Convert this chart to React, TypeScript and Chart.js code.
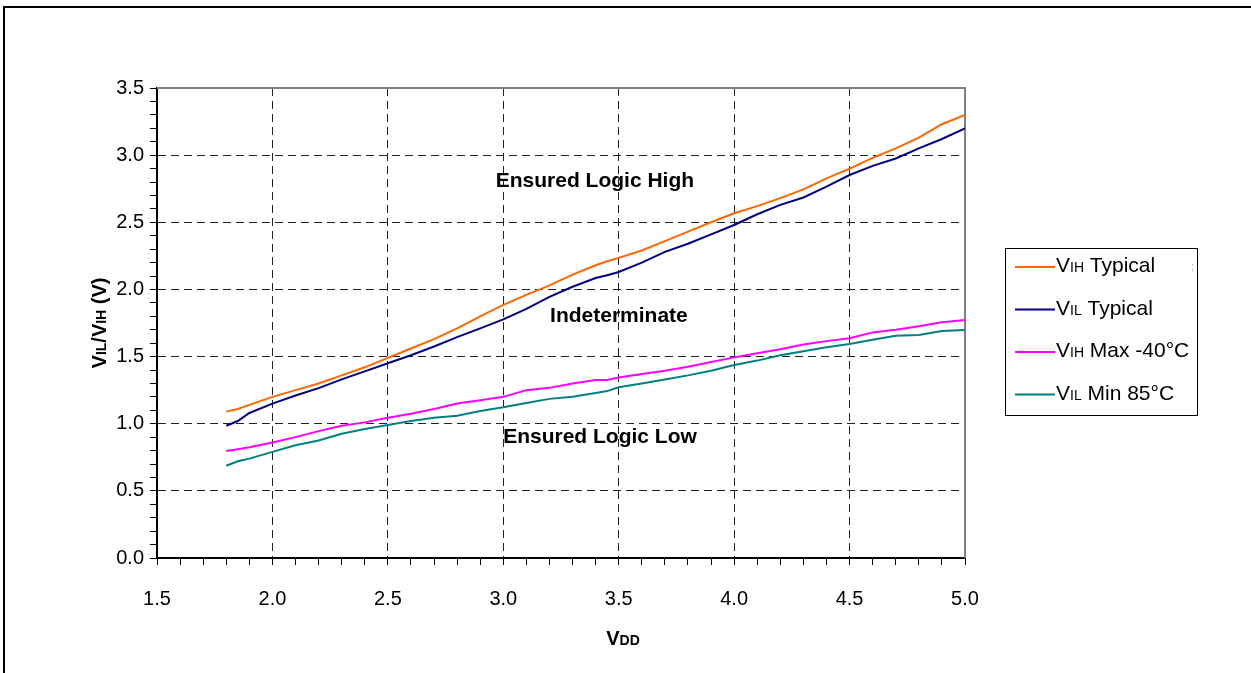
import { useEffect, useRef } from 'react';
import { Chart, registerables } from 'chart.js';

Chart.register(...registerables);

// ---------- data ----------
const VDD = [1.8, 1.85, 1.9, 2.0, 2.1, 2.2, 2.3, 2.4, 2.5, 2.6, 2.7, 2.8, 2.9, 3.0, 3.1, 3.2, 3.3, 3.4, 3.45, 3.5, 3.6, 3.7, 3.8, 3.9, 4.0, 4.1, 4.2, 4.3, 4.4, 4.5, 4.6, 4.7, 4.8, 4.9, 5.0];
const VIH_TYPICAL = [1.09, 1.11, 1.14, 1.2, 1.25, 1.3, 1.36, 1.42, 1.49, 1.56, 1.63, 1.71, 1.8, 1.885, 1.96, 2.03, 2.11, 2.18, 2.21, 2.235, 2.29, 2.36, 2.43, 2.5, 2.567, 2.62, 2.68, 2.745, 2.827, 2.9, 2.98, 3.05, 3.13, 3.23, 3.3];
const VIL_TYPICAL = [0.985, 1.02, 1.08, 1.15, 1.21, 1.265, 1.33, 1.39, 1.45, 1.51, 1.575, 1.645, 1.71, 1.777, 1.855, 1.945, 2.02, 2.085, 2.105, 2.13, 2.2, 2.28, 2.34, 2.41, 2.48, 2.56, 2.63, 2.685, 2.765, 2.852, 2.92, 2.975, 3.05, 3.12, 3.2];
const VIH_MAX_M40 = [0.797, 0.81, 0.825, 0.86, 0.9, 0.945, 0.985, 1.01, 1.045, 1.075, 1.11, 1.15, 1.175, 1.2, 1.25, 1.267, 1.3, 1.325, 1.325, 1.345, 1.37, 1.395, 1.425, 1.46, 1.494, 1.525, 1.555, 1.59, 1.615, 1.636, 1.68, 1.7, 1.725, 1.755, 1.772];
const VIL_MIN_85 = [0.687, 0.72, 0.74, 0.79, 0.84, 0.875, 0.925, 0.96, 0.99, 1.02, 1.045, 1.06, 1.095, 1.122, 1.155, 1.185, 1.2, 1.228, 1.243, 1.271, 1.3, 1.33, 1.36, 1.395, 1.437, 1.47, 1.51, 1.54, 1.57, 1.593, 1.625, 1.655, 1.66, 1.69, 1.698];

const SERIES_LABELS = ['VIH Typical', 'VIL Typical', 'VIH Max -40°C', 'VIL Min 85°C'];
const SERIES_COLORS = ['#FF6600', '#000080', '#FF00FF', '#008080'];

const X_TICKS = [1.5, 2.0, 2.5, 3.0, 3.5, 4.0, 4.5, 5.0];
const X_TICK_LABELS = ['1.5', '2.0', '2.5', '3.0', '3.5', '4.0', '4.5', '5.0'];
const Y_TICKS = [0.0, 0.5, 1.0, 1.5, 2.0, 2.5, 3.0, 3.5];
const Y_TICK_LABELS = ['0.0', '0.5', '1.0', '1.5', '2.0', '2.5', '3.0', '3.5'];

const REGION_LABELS = ['Ensured Logic High', 'Indeterminate', 'Ensured Logic Low'];

const FAMILY = '"Liberation Sans", Arial, Helvetica, sans-serif';

type Seg = [string, number];

function drawSegs(ctx: CanvasRenderingContext2D, segs: Seg[], x: number, y: number, center: boolean, bold: boolean) {
  let total = 0;
  for (const [t, s] of segs) {
    ctx.font = `${bold ? 'bold ' : ''}${s}px ${FAMILY}`;
    total += ctx.measureText(t).width;
  }
  let cx = center ? x - total / 2 : x;
  ctx.textAlign = 'left';
  ctx.textBaseline = 'alphabetic';
  for (const [t, s] of segs) {
    ctx.font = `${bold ? 'bold ' : ''}${s}px ${FAMILY}`;
    ctx.fillText(t, cx, y);
    cx += ctx.measureText(t).width;
  }
}

function splitLabel(label: string, big: number, small: number): Seg[] {
  return [[label.slice(0, 1), big], [label.slice(1, 3), small], [label.slice(3), big]];
}

function tickIndex(list: number[], v: number) {
  return list.findIndex((t) => Math.abs(t - v) < 1e-6);
}

const decorPlugin = {
  id: 'decor',
  beforeDraw(chart: any) {
    const ctx = chart.ctx as CanvasRenderingContext2D;
    ctx.save();
    ctx.fillStyle = '#ffffff';
    ctx.fillRect(0, 0, chart.width, chart.height);
    // outer frame
    ctx.strokeStyle = '#000';
    ctx.lineWidth = 2;
    ctx.beginPath();
    ctx.moveTo(4, chart.height + 2);
    ctx.lineTo(4, 7);
    ctx.lineTo(chart.width + 2, 7);
    ctx.stroke();
    ctx.restore();
  },
  beforeDatasetsDraw(chart: any) {
    const ctx = chart.ctx as CanvasRenderingContext2D;
    const a = chart.chartArea;
    ctx.save();
    ctx.strokeStyle = '#808080';
    ctx.lineWidth = 2;
    ctx.beginPath();
    ctx.moveTo(a.left, a.top);
    ctx.lineTo(a.right, a.top);
    ctx.lineTo(a.right, a.bottom);
    ctx.stroke();
    ctx.restore();
  },
  afterDraw(chart: any) {
    const ctx = chart.ctx as CanvasRenderingContext2D;
    const xs = chart.scales.x;
    const ys = chart.scales.y;
    const a = chart.chartArea;
    ctx.save();
    ctx.fillStyle = '#000';

    // region annotations (anchored in data space)
    const anchors: [number, number][] = [[3.397, 2.763], [3.501, 1.757], [3.419, 0.856]];
    REGION_LABELS.forEach((t, i) => {
      drawSegs(ctx, [[t, 21]], xs.getPixelForValue(anchors[i][0]), ys.getPixelForValue(anchors[i][1]), true, true);
    });

    // x axis title
    drawSegs(ctx, [['V', 20], ['DD', 14]], 623, 645, true, true);

    // y axis title (rotated)
    ctx.save();
    ctx.translate(106, (a.top + a.bottom) / 2);
    ctx.rotate(-Math.PI / 2);
    drawSegs(ctx, [['V', 20], ['IL', 14], ['/V', 20], ['IH', 14], [' (V)', 20]], 0, 0, true, true);
    ctx.restore();

    // legend
    const lx = 1005, ly = 248, lw = 192, lh = 167;
    ctx.strokeStyle = '#000';
    ctx.lineWidth = 1;
    ctx.strokeRect(lx + 0.5, ly + 0.5, lw, lh);
    const baselines = [272, 314.5, 357, 399.5];
    chart.data.datasets.forEach((ds: any, i: number) => {
      const by = baselines[i];
      ctx.strokeStyle = ds.borderColor;
      ctx.lineWidth = 2;
      ctx.beginPath();
      ctx.moveTo(1015, by - 5);
      ctx.lineTo(1055, by - 5);
      ctx.stroke();
      ctx.fillStyle = '#000';
      drawSegs(ctx, splitLabel(ds.label, 21, 14), 1056, by, false, false);
    });
    ctx.fillStyle = '#aaa';
    ctx.font = `10px ${FAMILY}`;
    ctx.fillText(';', 1191, 270);
    ctx.restore();
  },
};

export default function App() {
  const ref = useRef<HTMLCanvasElement | null>(null);
  useEffect(() => {
    const canvas = ref.current;
    if (!canvas) return;
    const series = [VIH_TYPICAL, VIL_TYPICAL, VIH_MAX_M40, VIL_MIN_85];
    const tickFont = { family: FAMILY, size: 20 };
    const chart = new Chart(canvas, {
      type: 'line',
      data: {
        datasets: series.map((s, i) => ({
          label: SERIES_LABELS[i],
          data: VDD.map((x, j) => ({ x, y: s[j] })),
          borderColor: SERIES_COLORS[i],
          backgroundColor: SERIES_COLORS[i],
          borderWidth: 2,
          pointRadius: 0,
          tension: 0,
          fill: false,
        })),
      },
      options: {
        responsive: false,
        animation: false,
        devicePixelRatio: 1,
        layout: { padding: { left: 0, top: 88, right: 286, bottom: 0 } },
        plugins: {
          legend: { display: false },
          tooltip: { enabled: false },
          title: { display: false },
        },
        scales: {
          x: {
            type: 'linear',
            min: 1.5,
            max: 5.0,
            afterFit: (s: any) => { s.height = 115; },
            ticks: {
              stepSize: 0.1,
              autoSkip: false,
              maxTicksLimit: 1000,
              maxRotation: 0,
              padding: 22,
              color: '#000',
              font: tickFont,
              callback: (v: any) => {
                const i = tickIndex(X_TICKS, Number(v));
                return i >= 0 ? X_TICK_LABELS[i] : '';
              },
            },
            grid: {
              color: (c: any) => {
                const v = c.tick ? c.tick.value : NaN;
                const i = tickIndex(X_TICKS, v);
                return i > 0 && i < X_TICKS.length - 1 ? '#222' : 'rgba(0,0,0,0)';
              },
              tickColor: '#000',
              tickLength: 7,
              lineWidth: 1,
            },
            border: { color: '#000', width: 2, dash: [8, 5] },
          },
          y: {
            type: 'linear',
            min: 0,
            max: 3.5,
            afterFit: (s: any) => { s.width = 157; },
            ticks: {
              stepSize: 0.1,
              autoSkip: false,
              maxTicksLimit: 1000,
              padding: 6,
              color: '#000',
              font: tickFont,
              callback: (v: any) => {
                const i = tickIndex(Y_TICKS, Number(v));
                return i >= 0 ? Y_TICK_LABELS[i] : '';
              },
            },
            grid: {
              color: (c: any) => {
                const v = c.tick ? c.tick.value : NaN;
                const i = tickIndex(Y_TICKS, v);
                return i > 0 && i < Y_TICKS.length - 1 ? '#222' : 'rgba(0,0,0,0)';
              },
              tickColor: '#000',
              tickLength: 7,
              lineWidth: 1,
            },
            border: { color: '#000', width: 2, dash: [8, 5] },
          },
        },
      } as any,
      plugins: [decorPlugin],
    });
    return () => chart.destroy();
  }, []);

  return (
    <div style={{ position: 'fixed', left: 0, top: 0, width: 1251, height: 673, background: '#fff' }}>
      <canvas ref={ref} width={1251} height={673} style={{ display: 'block', width: 1251, height: 673 }} />
    </div>
  );
}
